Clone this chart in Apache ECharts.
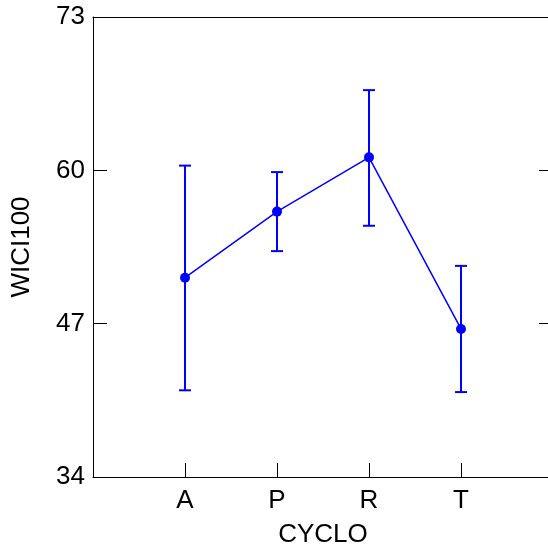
<!DOCTYPE html>
<html>
<head>
<meta charset="utf-8">
<script src="https://cdn.jsdelivr.net/npm/echarts@6/dist/echarts.min.js"></script>
<style>html,body{margin:0;padding:0;background:#fff}#c{width:548px;height:550px}</style>
</head>
<body>
<div id="c"></div>
<script>
var categories = ['A', 'P', 'R', 'T'];
var means = [50.9, 56.5, 61.1, 46.55];
var upper = [60.4, 59.85, 66.8, 51.9];
var lower = [41.35, 53.15, 55.3, 41.2];
var yTicks = [34, 47, 60, 73];
var xTitle = 'CYCLO';
var yTitle = 'WICI100';

var font = 'Liberation Sans, Arial, sans-serif';
var fs = 26;
var blue = '#0000ff';
var pos = categories.map(function (c, i) { return i + 1; });
var lineData = means.map(function (m, i) { return [pos[i], m]; });
var errData = means.map(function (m, i) { return [pos[i], lower[i], upper[i]]; });

var chart = echarts.init(document.getElementById('c'), null, {renderer: 'canvas'});
chart.setOption({
  animation: false,
  backgroundColor: '#fff',
  grid: {left: 93, top: 17, width: 460, height: 460, outerBoundsMode: 'none', containLabel: false},
  xAxis: [{
    type: 'value', position: 'bottom', min: 0, max: categories.length + 1,
    name: xTitle, nameLocation: 'middle', nameGap: 45,
    nameTextStyle: {fontFamily: font, fontSize: fs, color: '#000'},
    axisLine: {show: true, onZero: false, lineStyle: {color: '#000', width: 1}},
    axisTick: {show: true, inside: true, length: 14, customValues: pos, lineStyle: {color: '#000'}},
    axisLabel: {customValues: pos, fontFamily: font, fontSize: fs, color: '#000', margin: 11,
      formatter: function (v) { return categories[Math.round(v) - 1] || ''; }},
    splitLine: {show: false}
  }, {
    type: 'value', position: 'top', min: 0, max: categories.length + 1,
    axisLine: {show: true, onZero: false, lineStyle: {color: '#000', width: 1}},
    axisTick: {show: false}, axisLabel: {show: false}, splitLine: {show: false}
  }],
  yAxis: [{
    type: 'value', position: 'left', min: yTicks[0], max: yTicks[yTicks.length - 1],
    name: yTitle, nameLocation: 'middle', nameGap: 58, nameRotate: 90,
    nameTextStyle: {fontFamily: font, fontSize: fs, color: '#000'},
    axisLine: {show: true, onZero: false, lineStyle: {color: '#000', width: 1}},
    axisTick: {show: true, inside: true, length: 14, customValues: yTicks, lineStyle: {color: '#000'}},
    axisLabel: {customValues: yTicks, fontFamily: font, fontSize: fs, color: '#000', margin: 8},
    splitLine: {show: false}
  }, {
    type: 'value', position: 'right', min: yTicks[0], max: yTicks[yTicks.length - 1],
    axisLine: {show: true, onZero: false, lineStyle: {color: '#000', width: 1}},
    axisTick: {show: true, inside: true, length: 14, customValues: yTicks, lineStyle: {color: '#000'}},
    axisLabel: {show: false}, splitLine: {show: false}
  }],
  series: [{
    type: 'custom',
    data: errData,
    renderItem: function (params, api) {
      var x = api.value(0);
      var lo = api.coord([x, api.value(1)]);
      var hi = api.coord([x, api.value(2)]);
      var hw = 6;
      var st = {stroke: blue, lineWidth: 2};
      return {type: 'group', children: [
        {type: 'line', shape: {x1: lo[0], y1: lo[1], x2: hi[0], y2: hi[1]}, style: st},
        {type: 'line', shape: {x1: lo[0] - hw, y1: lo[1], x2: lo[0] + hw, y2: lo[1]}, style: st},
        {type: 'line', shape: {x1: hi[0] - hw, y1: hi[1], x2: hi[0] + hw, y2: hi[1]}, style: st}
      ]};
    },
    z: 2
  }, {
    type: 'line',
    data: lineData,
    symbol: 'circle', symbolSize: 10,
    lineStyle: {color: blue, width: 1.5},
    itemStyle: {color: blue},
    z: 3
  }]
});
</script>
</body>
</html>
